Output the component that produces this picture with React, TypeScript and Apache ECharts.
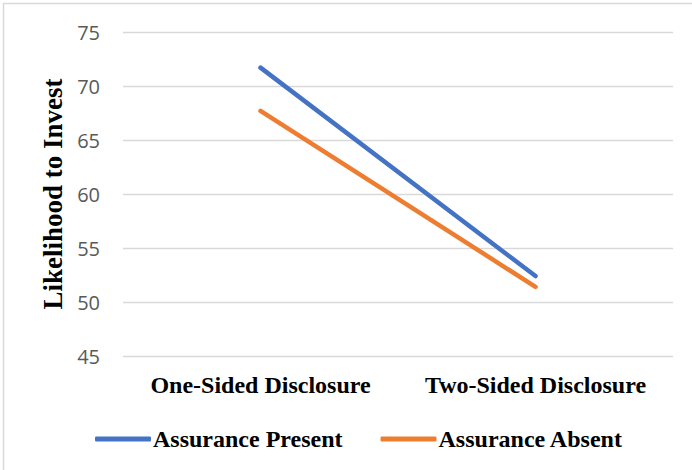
import React, { useEffect, useRef } from "react";
import * as echarts from "echarts";

const categories = ["One-Sided Disclosure", "Two-Sided Disclosure"];
const assurancePresent = [71.7, 52.4];
const assuranceAbsent = [67.7, 51.4];
const yTicks = { min: 45, max: 75, interval: 5 };

const SERIF = "'Liberation Serif', 'Times New Roman', serif";
const SANS = "'Open Sans', 'Noto Sans', sans-serif";

export default function App() {
  const ref = useRef<HTMLDivElement>(null);

  useEffect(() => {
    if (!ref.current) return;
    const chart = echarts.init(ref.current, null, { renderer: "svg" });
    chart.setOption({
      animation: false,
      backgroundColor: "#ffffff",
      graphic: [
        {
          type: "rect",
          shape: { x: 3.5, y: 3.5, width: 720, height: 500 },
          style: { fill: "none", stroke: "#d9d9d9", lineWidth: 1.5 },
          silent: true,
          z: -1,
        },
      ],
      grid: { left: 123, right: 19, top: 32, bottom: 114, containLabel: false },
      legend: {
        left: 90,
        top: 422,
        itemWidth: 56,
        itemHeight: 5,
        itemGap: 38,
        icon: "roundRect",
        textStyle: { fontFamily: SERIF, fontWeight: "bold", fontSize: 24, color: "#000", padding: [0, 0, 0, -3] },
        data: ["Assurance Present", "Assurance Absent"],
      },
      xAxis: {
        type: "category",
        data: categories,
        boundaryGap: true,
        axisLine: { show: false },
        axisTick: { show: false },
        axisLabel: {
          interval: 0,
          hideOverlap: false,
          fontFamily: SERIF,
          fontWeight: "bold",
          fontSize: 24,
          color: "#000",
          margin: 17,
        },
      },
      yAxis: {
        type: "value",
        min: yTicks.min,
        max: yTicks.max,
        interval: yTicks.interval,
        name: "Likelihood to Invest",
        nameLocation: "middle",
        nameGap: 57,
        nameTextStyle: { fontFamily: SERIF, fontWeight: "bold", fontSize: 27, color: "#000" },
        axisLine: { show: false },
        axisTick: { show: false },
        axisLabel: { fontFamily: SANS, fontSize: 20, color: "#595959", margin: 23 },
        splitLine: { lineStyle: { color: "#d9d9d9", width: 1.3 } },
      },
      series: [
        {
          name: "Assurance Present",
          type: "line",
          data: assurancePresent,
          symbol: "none",
          color: "#4472c4",
          lineStyle: { width: 4.5, color: "#4472c4", cap: "round" },
        },
        {
          name: "Assurance Absent",
          type: "line",
          data: assuranceAbsent,
          symbol: "none",
          color: "#ed7d31",
          lineStyle: { width: 4.5, color: "#ed7d31", cap: "round" },
        },
      ],
    });
    return () => chart.dispose();
  }, []);

  return (
    <div
      ref={ref}
      style={{ position: "fixed", left: 0, top: 0, width: 692, height: 470 }}
    />
  );
}
